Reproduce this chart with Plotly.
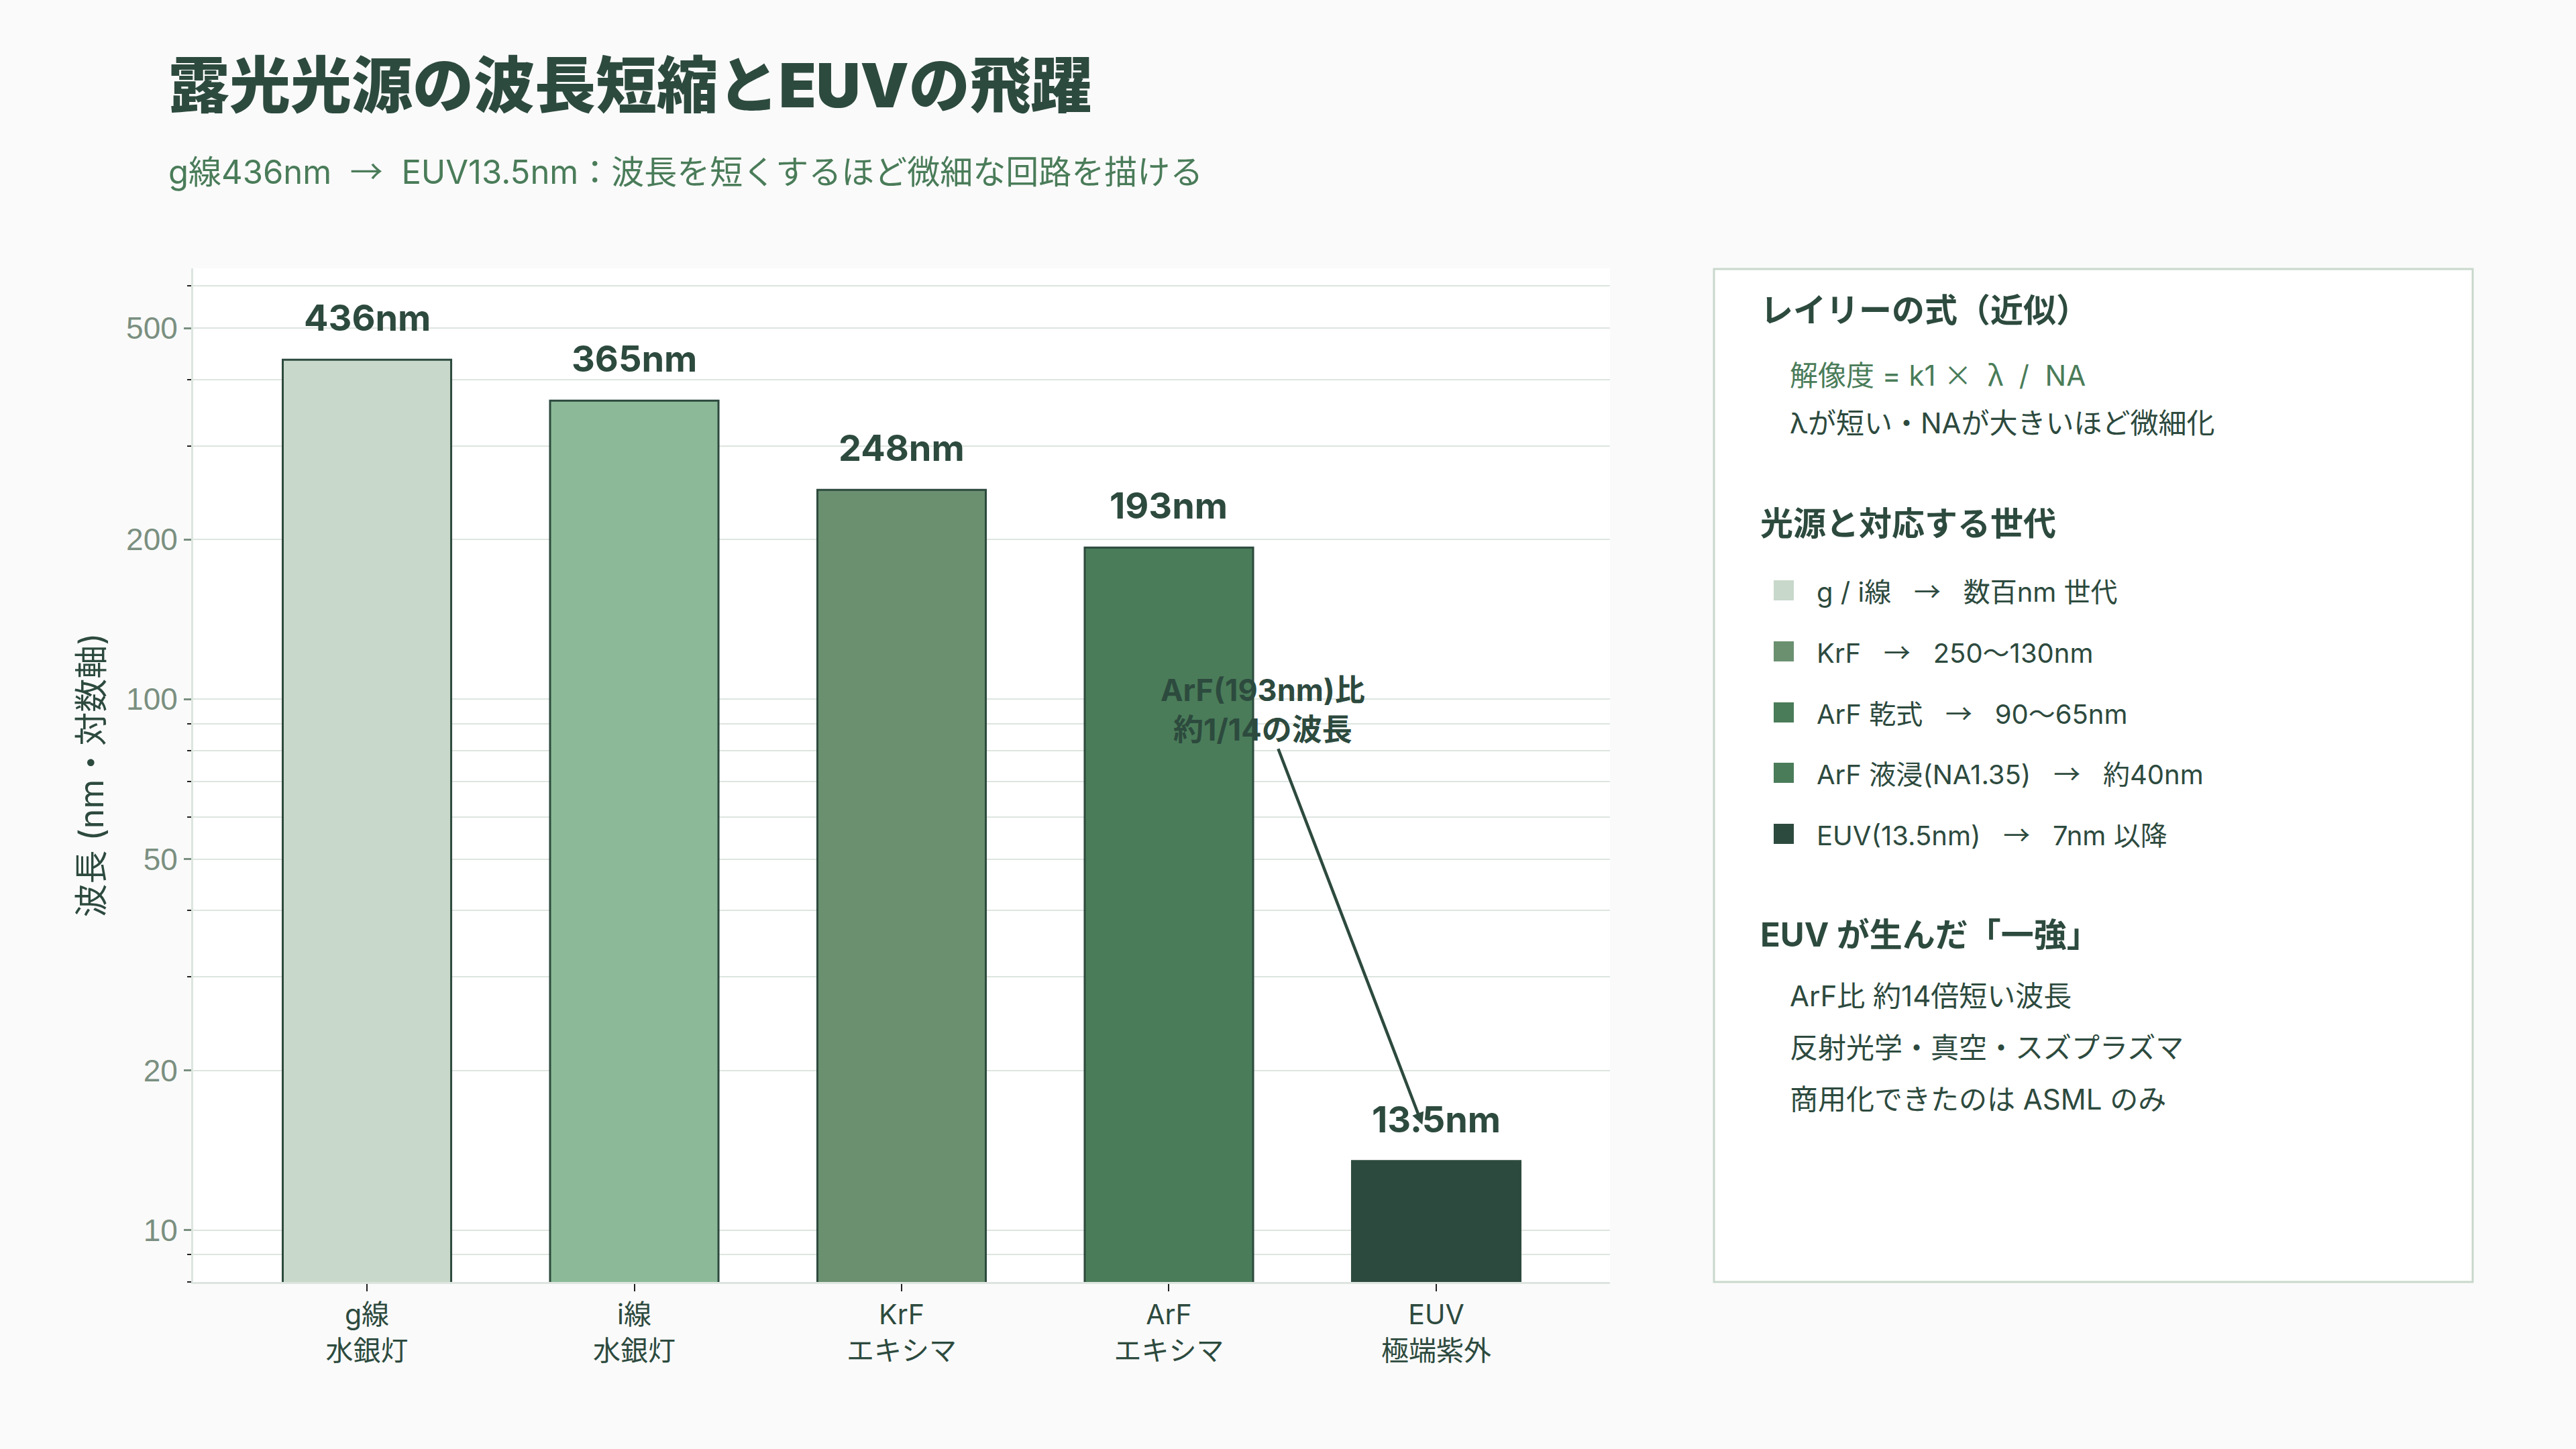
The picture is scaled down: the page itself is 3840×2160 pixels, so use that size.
import math
import plotly.graph_objects as go

# ---------------- data ----------------
categories = ["g線<br>水銀灯", "i線<br>水銀灯", "KrF<br>エキシマ", "ArF<br>エキシマ", "EUV<br>極端紫外"]
wavelengths = [436, 365, 248, 193, 13.5]
value_labels = ["436nm", "365nm", "248nm", "193nm", "13.5nm"]
bar_colors = ["#c8d8cb", "#8cba98", "#6a9070", "#4a7c59", "#2d4a3e"]

major_ticks = [10, 20, 50, 100, 200, 500]
minor_ticks = [8, 9, 30, 40, 60, 70, 80, 90, 300, 400, 600]

title_text = "露光光源の波長短縮とEUVの飛躍"
subtitle_text = "g線436nm → EUV13.5nm：波長を短くするほど微細な回路を描ける"
y_title = "波長 (nm・対数軸)"
arrow_text = "ArF(193nm)比<br>約1/14の波長"

panel_heading_1 = "レイリーの式（近似）"
formula = "解像度 = k1 × λ / NA"
formula_note = "λが短い・NAが大きいほど微細化"
panel_heading_2 = "光源と対応する世代"
gen_labels = [
    "g / i線 → 数百nm 世代",
    "KrF → 250〜130nm",
    "ArF 乾式 → 90〜65nm",
    "ArF 液浸(NA1.35) → 約40nm",
    "EUV(13.5nm) → 7nm 以降",
]
gen_colors = ["#c8d8cb", "#6a9070", "#4a7c59", "#4a7c59", "#2d4a3e"]
panel_heading_3 = "EUV が生んだ「一強」"
euv_points = ["ArF比 約14倍短い波長", "反射光学・真空・スズプラズマ", "商用化できたのは ASML のみ"]

# ---------------- style ----------------
DARK = "#2d4a3e"
GREEN = "#4a7c59"
GRAY = "#7a8f80"
GRID = "#dde5df"
MIX = "Inter, Noto Sans CJK JP, sans-serif"
SANS = "Liberation Sans, Arial, sans-serif"
NB = "\u00a0"


def cjk(ch):
    return '<span style="font-family:Noto Sans CJK JP">' + ch + "</span>"


def wide_arrow(text, pad):
    return text.replace(" → ", NB * pad + cjk("→") + NB * pad)


W, H = 3840, 2160
L, R, T, B = 288, 2400, 400, 1911


def px(x):
    return (x - L) / (R - L)


def py(y):
    return (B - y) / (B - T)


fig = go.Figure()
fig.add_trace(go.Bar(
    x=categories,
    y=wavelengths,
    marker=dict(color=bar_colors, line=dict(color=DARK, width=3)),
    hoverinfo="skip",
    showlegend=False,
))

annotations = []
# value labels above bars
for c, v, t in zip(categories, wavelengths, value_labels):
    annotations.append(dict(
        x=c, y=math.log10(v), xref="x", yref="y", text=t, showarrow=False,
        yanchor="bottom", yshift=28,
        font=dict(family=MIX, size=54, color=DARK, weight="bold"),
    ))

# arrow annotation
annotations.append(dict(
    x=categories[-1], y=math.log10(wavelengths[-1]), xref="x", yref="y",
    text=arrow_text, showarrow=True, ax=-258, ay=-673,
    arrowhead=2, arrowsize=0.8, arrowwidth=4.5, arrowcolor=DARK, standoff=58,
    font=dict(family=MIX, size=45, color=DARK, weight="bold"),
))

# title and subtitle
annotations.append(dict(
    x=px(249), y=py(127), xref="paper", yref="paper", text=title_text,
    showarrow=False, xanchor="left", yanchor="middle",
    font=dict(family=MIX, size=91, color=DARK, weight=900),
))
annotations.append(dict(
    x=px(249), y=py(252), xref="paper", yref="paper", text=wide_arrow(subtitle_text, 2),
    showarrow=False, xanchor="left", yanchor="middle",
    font=dict(family=MIX, size=49, color=GREEN),
))


def panel_text(x, y, text, size, color, bold=False):
    annotations.append(dict(
        x=px(x), y=py(y), xref="paper", yref="paper", text=text,
        showarrow=False, xanchor="left", yanchor="middle",
        font=dict(family=MIX, size=size, color=color, weight="bold" if bold else "normal"),
    ))


formula_html = (formula.replace(" ", NB)
                .replace("/", "/" + NB)
                .replace("λ", NB + cjk("λ") + NB)
                .replace("×", cjk("×")))

panel_text(2622, 462, panel_heading_1, 49, DARK, True)
panel_text(2666, 556, formula_html, 42, GREEN)
panel_text(2666, 630, formula_note, 42, DARK)
panel_text(2622, 780, panel_heading_2, 49, DARK, True)

shapes = [dict(
    type="rect", xref="paper", yref="paper",
    x0=px(2555), x1=px(3686), y0=py(1911), y1=py(401),
    line=dict(color="#c8d8cb", width=3), fillcolor="#ffffff", layer="below",
)]

row_y = [880, 971, 1062, 1152, 1243]
for yy, lab, col in zip(row_y, gen_labels, gen_colors):
    shapes.append(dict(
        type="rect", xref="paper", yref="paper",
        x0=px(2644), x1=px(2674), y0=py(yy + 15), y1=py(yy - 15),
        line=dict(width=0), fillcolor=col,
    ))
    panel_text(2706, yy, wide_arrow(lab, 3), 40, DARK)

panel_text(2622, 1393, panel_heading_3, 49, DARK, True)
for yy, t in zip([1484, 1561, 1638], euv_points):
    panel_text(2666, yy, t, 42, DARK)

fig.update_layout(
    width=W, height=H,
    margin=dict(l=L, r=W - R, t=T, b=H - B, autoexpand=False),
    paper_bgcolor="#fafafa",
    plot_bgcolor="#ffffff",
    bargap=0.37,
    showlegend=False,
    annotations=annotations,
    shapes=shapes,
    font=dict(family=MIX, color=DARK),
)

fig.update_xaxes(
    type="category",
    range=[-0.65, 4.65],
    showgrid=False,
    showline=True, linecolor=GRID, linewidth=3,
    ticks="outside", ticklen=11, tickwidth=2, tickcolor="#222222",
    tickfont=dict(family=MIX, size=41, color=DARK),
    automargin=False,
)

fig.update_yaxes(
    type="log",
    range=[math.log10(7.99), math.log10(648)],
    tickmode="array", tickvals=major_ticks,
    ticktext=[str(v) for v in major_ticks],
    ticks="outside", ticklen=11, tickwidth=3, tickcolor=GRAY,
    tickfont=dict(family=SANS, size=46, color=GRAY),
    showgrid=True, gridcolor=GRID, gridwidth=2,
    showline=True, linecolor=GRID, linewidth=3,
    zeroline=False,
    minor=dict(tickmode="array", tickvals=minor_ticks, ticks="outside", ticklen=6,
               tickwidth=2, tickcolor="#222222", showgrid=True, gridcolor=GRID, gridwidth=2),
    title=dict(text=y_title, font=dict(family=MIX, size=50, color=DARK), standoff=18),
    automargin=False,
)

fig.write_html("out.html")
